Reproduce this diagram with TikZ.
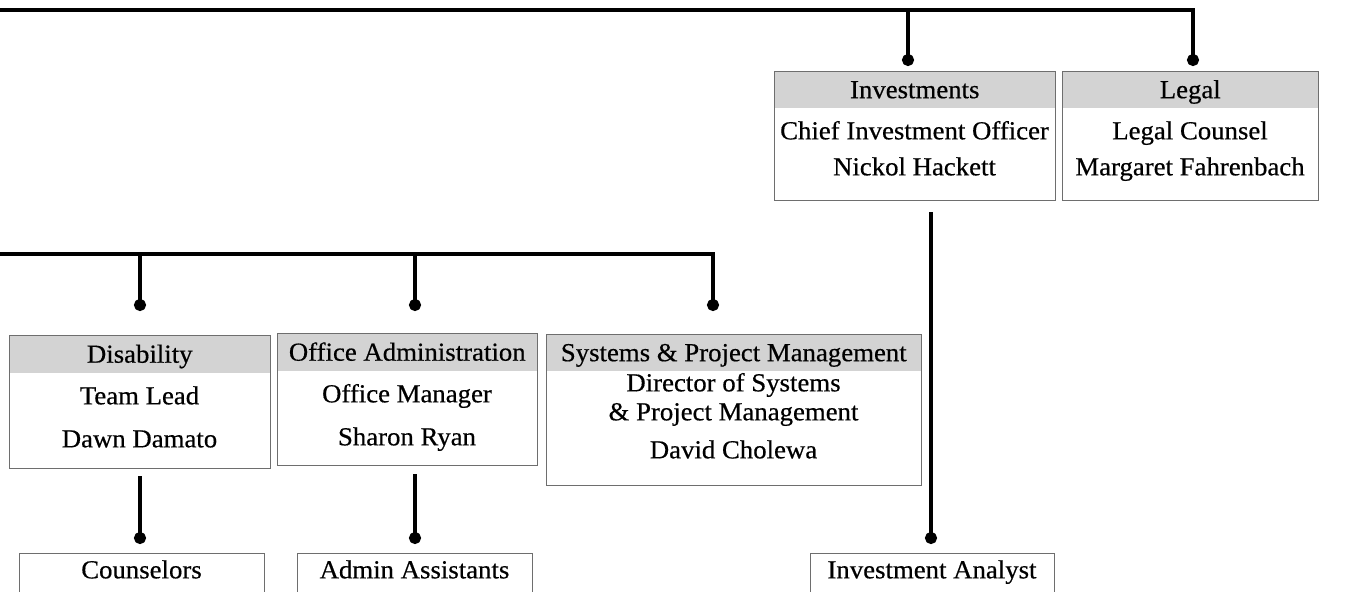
\documentclass[tikz,border=0pt]{standalone}
\usepackage{fontspec}
\setmainfont{Liberation Serif}
\newfontfamily\chartfam{Liberation Serif}[FakeBold=0.5,FakeStretch=1.03]
\usetikzlibrary{arrows.meta}
\definecolor{boxline}{HTML}{6E6E6E}
\definecolor{hdrgray}{HTML}{D3D3D3}
\newcommand\chartfont{\chartfam\fontsize{19.5}{22}\selectfont}
\begin{document}
\begin{tikzpicture}[x=0.75pt,y=-0.75pt,
  box/.style={draw=boxline, line width=0.9pt, fill=white, inner sep=0pt, anchor=north west},
  hdr/.style={fill=hdrgray, inner sep=0pt, anchor=north west, font=\chartfont, text height=12.5pt, text depth=0pt},
  txt/.style={inner sep=0pt, font=\chartfont, text height=12.5pt, text depth=0pt},
  bar/.style={line width=2.6pt, line join=miter},
  conn/.style={line width=2.6pt, line join=miter, -{Circle[length=9pt,width=9pt]}}]
\useasboundingbox (0,0) rectangle (1349,592);

% ---------- top level ----------
\node[box, minimum width={281*0.75pt}, minimum height={129*0.75pt}] (inv) at (774,71) {};
\node[hdr, minimum width={279.8*0.75pt}, minimum height={36*0.75pt}] (invh) at (774.6,71.6) {Investments};
\node[txt] (inv1) at (914.5,131) {Chief Investment Officer};
\node[txt] (inv2) at (914.5,167) {Nickol Hackett};

\node[box, minimum width={256*0.75pt}, minimum height={129*0.75pt}] (leg) at (1062,71) {};
\node[hdr, minimum width={254.8*0.75pt}, minimum height={36*0.75pt}] (legh) at (1062.6,71.6) {Legal};
\node[txt] (leg1) at (1190,131) {Legal Counsel};
\node[txt] (leg2) at (1190,167) {Margaret Fahrenbach};

\coordinate (tL) at (0,10);
\coordinate (tI) at (908,10);
\coordinate (tR) at (1193,10);
\draw[conn] (tL) -- (tR) -- (tR |- 0,66);
\draw[conn] (tI) -- (tI |- 0,66);

% ---------- second level ----------
\node[box, minimum width={261*0.75pt}, minimum height={133*0.75pt}] (dis) at (9,335) {};
\node[hdr, minimum width={259.8*0.75pt}, minimum height={37*0.75pt}] (dish) at (9.6,335.6) {Disability};
\node[txt] (dis1) at (139.5,396) {Team Lead};
\node[txt] (dis2) at (139.5,439) {Dawn Damato};

\node[box, minimum width={260*0.75pt}, minimum height={132*0.75pt}] (off) at (277,333) {};
\node[hdr, minimum width={258.8*0.75pt}, minimum height={37*0.75pt}] (offh) at (277.6,333.6) {Office Administration};
\node[txt] (off1) at (407,394) {Office Manager};
\node[txt] (off2) at (407,437) {Sharon Ryan};

\node[box, minimum width={375*0.75pt}, minimum height={151*0.75pt}] (sys) at (546,334) {};
\node[hdr, minimum width={373.8*0.75pt}, minimum height={36*0.75pt}] (sysh) at (546.6,334.6) {Systems \& Project Management};
\node[txt] (sys1) at (733.5,383) {Director of Systems};
\node[txt] (sys2) at (733.5,412) {\& Project Management};
\node[txt] (sys3) at (733.5,450) {David Cholewa};

\coordinate (mL) at (0,254);
\coordinate (mD) at (140,254);
\coordinate (mO) at (415,254);
\coordinate (mS) at (713,254);
\draw[conn] (mL) -- (mS) -- (mS |- 0,311);
\draw[conn] (mD) -- (mD |- 0,311);
\draw[conn] (mO) -- (mO |- 0,311);

% ---------- third level ----------
\node[box, minimum width={245*0.75pt}, minimum height={60*0.75pt}] (cou) at (19,553) {};
\node[txt] (cou1) at (141.5,570) {Counselors};
\node[box, minimum width={235*0.75pt}, minimum height={60*0.75pt}] (adm) at (297,553) {};
\node[txt] (adm1) at (414.5,570) {Admin Assistants};
\node[box, minimum width={244*0.75pt}, minimum height={60*0.75pt}] (ana) at (810,553) {};
\node[txt] (ana1) at (932,570) {Investment Analyst};

\coordinate (dD) at (140,476);
\coordinate (dO) at (415,474);
\coordinate (dI) at (931,212);
\draw[conn] (dD) -- (dD |- 0,544);
\draw[conn] (dO) -- (dO |- 0,544);
\draw[conn] (dI) -- (dI |- 0,544);
\end{tikzpicture}
\end{document}
